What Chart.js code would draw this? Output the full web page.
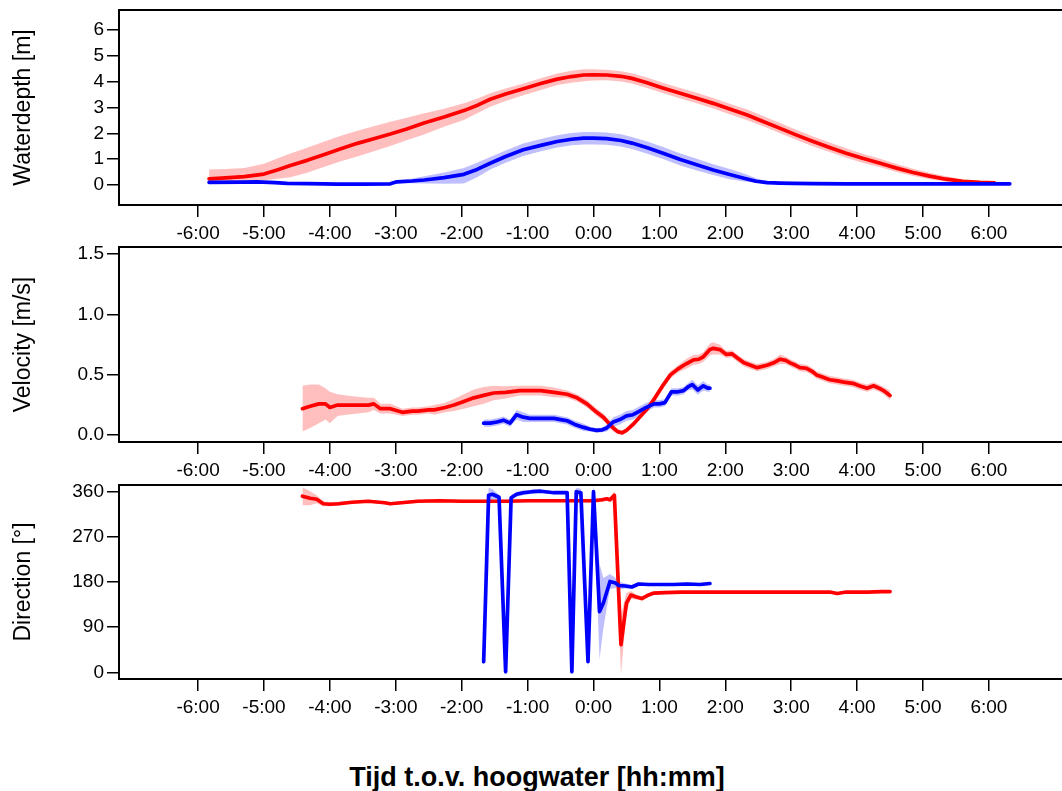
<!DOCTYPE html>
<html lang="nl">
<head>
<meta charset="UTF-8">
<title>Waterdiepte, snelheid en richting rond hoogwater</title>
<script src="https://cdn.jsdelivr.net/npm/chart.js"></script>
<style>
  body { margin: 0; background: #fff; overflow: hidden; font-family: 'Liberation Sans', Arial, sans-serif; }
  .wrap { position: relative; width: 1062px; height: 791px; overflow: hidden; }
  .wrap canvas { position: absolute; left: 0; }
  #xtitle { position: absolute; left: 0; width: 1074px; top: 762px; text-align: center;
            font-weight: bold; font-size: 27px; line-height: 30px; color: #000; }
</style>
</head>
<body>
<div class="wrap">
  <canvas id="depth" width="1080" height="250" style="top:0px"></canvas>
  <canvas id="velocity" width="1080" height="250" style="top:237px"></canvas>
  <canvas id="direction" width="1080" height="249" style="top:475px"></canvas>
  <div id="xtitle">Tijd t.o.v. hoogwater [hh:mm]</div>
</div>

<script>
// time axis: minutes relative to high water
const hourTicks = [-360, -300, -240, -180, -120, -60, 0, 60, 120, 180, 240, 300, 360];

// --- waterdepth [m] ---
const depthTimeRed = [-350, -335, -318, -300, -288, -276, -260, -245, -230, -215,
  -200, -185, -170, -155, -136, -118, -105, -94, -80, -63,
  -48, -33, -20, -9, 0, 12, 25, 35, 48, 63,
  79, 94, 109, 124, 140, 155, 170, 185, 200, 215,
  230, 245, 261, 276, 291, 306, 321, 336, 352, 365];
const depthRed = [0.23, 0.27, 0.32, 0.42, 0.58, 0.75, 0.96, 1.18, 1.40, 1.61,
  1.79, 1.97, 2.17, 2.39, 2.63, 2.88, 3.10, 3.32, 3.52, 3.74,
  3.93, 4.10, 4.20, 4.26, 4.27, 4.26, 4.21, 4.13, 3.97, 3.76,
  3.55, 3.36, 3.16, 2.94, 2.71, 2.45, 2.19, 1.93, 1.68, 1.45,
  1.23, 1.03, 0.84, 0.65, 0.48, 0.34, 0.22, 0.14, 0.10, 0.08];
const depthRedLow = [0.12, 0.14, 0.15, 0.18, 0.24, 0.30, 0.48, 0.70, 0.92, 1.10,
  1.30, 1.51, 1.73, 1.94, 2.25, 2.52, 2.80, 3.03, 3.25, 3.48,
  3.68, 3.87, 3.96, 4.02, 4.05, 4.06, 4.01, 3.93, 3.77, 3.56,
  3.35, 3.16, 2.96, 2.74, 2.51, 2.26, 2.00, 1.74, 1.49, 1.27,
  1.05, 0.86, 0.68, 0.50, 0.34, 0.22, 0.12, 0.07, 0.06, 0.06];
const depthRedHigh = [0.60, 0.62, 0.65, 0.82, 1.02, 1.22, 1.45, 1.68, 1.90, 2.10,
  2.27, 2.45, 2.60, 2.77, 2.95, 3.16, 3.36, 3.55, 3.74, 3.94,
  4.13, 4.32, 4.42, 4.48, 4.48, 4.46, 4.41, 4.33, 4.17, 3.96,
  3.76, 3.57, 3.37, 3.15, 2.92, 2.66, 2.40, 2.13, 1.88, 1.64,
  1.42, 1.21, 1.01, 0.81, 0.63, 0.47, 0.33, 0.22, 0.14, 0.10];

const depthTimeBlue = [-350, -320, -306, -290, -279, -260, -233, -210, -185, -179,
  -165, -154, -136, -118, -106, -94, -80, -64, -48, -33,
  -20, -9, 0, 12, 25, 35, 49, 64, 79, 94,
  109, 124, 137, 148, 158, 170, 182, 200, 230, 260,
  300, 340, 379];
const depthBlue = [0.10, 0.11, 0.12, 0.09, 0.06, 0.05, 0.03, 0.03, 0.04, 0.12,
  0.15, 0.19, 0.28, 0.41, 0.60, 0.84, 1.10, 1.36, 1.53, 1.68,
  1.77, 1.81, 1.81, 1.79, 1.72, 1.62, 1.44, 1.22, 0.98, 0.78,
  0.58, 0.40, 0.26, 0.14, 0.09, 0.07, 0.06, 0.05, 0.04, 0.04,
  0.04, 0.04, 0.04];
const depthBlueLow = [0.08, 0.09, 0.10, 0.07, 0.05, 0.04, 0.02, 0.02, 0.03, 0.06,
  0.06, 0.05, 0.04, 0.05, 0.30, 0.60, 0.86, 1.12, 1.30, 1.45,
  1.54, 1.57, 1.57, 1.56, 1.49, 1.39, 1.21, 0.99, 0.75, 0.56,
  0.38, 0.22, 0.13, 0.08, 0.07, 0.06, 0.05, 0.04, 0.03, 0.03,
  0.03, 0.03, 0.03];
const depthBlueHigh = [0.12, 0.13, 0.14, 0.11, 0.07, 0.06, 0.04, 0.04, 0.05, 0.18,
  0.25, 0.33, 0.48, 0.65, 0.86, 1.08, 1.33, 1.60, 1.78, 1.92,
  2.01, 2.05, 2.05, 2.03, 1.96, 1.86, 1.68, 1.46, 1.22, 1.01,
  0.80, 0.62, 0.44, 0.26, 0.14, 0.09, 0.07, 0.06, 0.05, 0.05,
  0.05, 0.05, 0.05];

// --- velocity [m/s] ---
const velTimeRed = [-265, -258, -250, -244, -240, -233, -225, -215, -205, -200,
  -194, -185, -174, -165, -160, -150, -145, -135, -127, -118,
  -109, -100, -91, -80, -67, -58, -48, -36, -24, -15,
  -6, 3, 9, 14, 18, 22, 26, 30, 36, 42,
  49, 56, 63, 70, 77, 84, 91, 96, 100, 106,
  109, 115, 121, 126, 131, 137, 143, 149, 158, 164,
  170, 175, 179, 184, 188, 194, 199, 203, 209, 215,
  222, 228, 236, 242, 249, 255, 260, 264, 270];
const velRed = [0.22, 0.24, 0.26, 0.26, 0.23, 0.25, 0.25, 0.25, 0.25, 0.26,
  0.22, 0.22, 0.19, 0.20, 0.20, 0.21, 0.21, 0.23, 0.25, 0.28,
  0.31, 0.33, 0.35, 0.355, 0.37, 0.37, 0.37, 0.355, 0.34, 0.31,
  0.26, 0.19, 0.15, 0.10, 0.06, 0.03, 0.02, 0.04, 0.09, 0.15,
  0.22, 0.31, 0.41, 0.50, 0.55, 0.59, 0.625, 0.63, 0.65, 0.71,
  0.72, 0.71, 0.67, 0.675, 0.64, 0.60, 0.58, 0.56, 0.58, 0.60,
  0.63, 0.62, 0.60, 0.58, 0.56, 0.555, 0.53, 0.50, 0.48, 0.46,
  0.45, 0.44, 0.43, 0.41, 0.39, 0.41, 0.39, 0.37, 0.33];
const velRedSpread = [0.19, 0.18, 0.16, 0.13, 0.13, 0.09, 0.08, 0.07, 0.06, 0.05,
  0.04, 0.04, 0.03, 0.03, 0.03, 0.03, 0.04, 0.04, 0.05, 0.06,
  0.07, 0.07, 0.06, 0.05, 0.04, 0.04, 0.04, 0.04, 0.03, 0.03,
  0.03, 0.03, 0.03, 0.03, 0.03, 0.02, 0.02, 0.02, 0.02, 0.02,
  0.02, 0.03, 0.03, 0.03, 0.03, 0.04, 0.04, 0.04, 0.04, 0.05,
  0.05, 0.04, 0.03, 0.03, 0.03, 0.03, 0.03, 0.03, 0.03, 0.03,
  0.04, 0.03, 0.03, 0.03, 0.03, 0.03, 0.03, 0.03, 0.03, 0.03,
  0.03, 0.03, 0.03, 0.03, 0.03, 0.03, 0.03, 0.03, 0.04];

const velTimeBlue = [-100, -94, -88, -82, -76, -70, -64, -58, -50, -42,
  -36, -30, -24, -17, -9, -3, 3, 8, 12, 18,
  24, 30, 36, 42, 48, 55, 60, 65, 71, 77,
  82, 86, 90, 95, 100, 104, 106];
const velBlue = [0.10, 0.10, 0.11, 0.125, 0.10, 0.17, 0.15, 0.14, 0.14, 0.14,
  0.14, 0.13, 0.12, 0.09, 0.065, 0.05, 0.04, 0.045, 0.06, 0.11,
  0.13, 0.16, 0.17, 0.20, 0.23, 0.26, 0.26, 0.27, 0.36, 0.36,
  0.37, 0.40, 0.42, 0.375, 0.41, 0.39, 0.39];
const velBlueSpread = [0.03, 0.03, 0.03, 0.03, 0.03, 0.04, 0.04, 0.03, 0.03, 0.03,
  0.03, 0.03, 0.03, 0.03, 0.03, 0.02, 0.02, 0.02, 0.03, 0.04,
  0.04, 0.04, 0.04, 0.04, 0.04, 0.03, 0.03, 0.03, 0.03, 0.03,
  0.03, 0.03, 0.04, 0.04, 0.04, 0.03, 0.03];

// --- direction [deg] ---
const dirTimeRed = [-265, -258, -252, -246, -240, -232, -220, -205, -190, -185,
  -175, -160, -140, -120, -100, -80, -60, -40, -20, 0,
  8, 12, 15, 19, 25, 30, 34, 39, 44, 49,
  55, 65, 80, 100, 130, 160, 190, 215, 222, 230,
  250, 262, 270];
const dirRed = [351, 347, 345, 336, 335, 336, 339, 341, 338, 336,
  338, 341, 342, 341, 341, 341, 342, 342, 342, 342,
  344, 346, 344, 353, 55, 138, 154, 150, 147, 153,
  158, 159, 160, 160, 160, 160, 160, 160, 157, 160,
  160, 161, 161];
const dirRedSpread = [18, 14, 8, 5, 4, 4, 3, 3, 3, 3,
  3, 3, 3, 3, 3, 3, 3, 3, 3, 4,
  4, 4, 5, 8, 60, 20, 8, 5, 4, 3,
  3, 2, 2, 2, 2, 2, 2, 2, 2, 2,
  2, 2, 2];

const dirTimeBlue = [-100, -95.5, -92, -86, -80, -75, -70, -64, -56, -48,
  -40, -36, -30, -24, -19.7, -15.7, -11.5, -5, 0, 5.5,
  9, 15, 20, 23, 29, 35, 41, 50, 60, 73,
  85, 97, 106];
const dirBlue = [21, 353, 355, 349, 1, 348, 355, 358, 360, 361,
  359, 358, 358, 358, 1, 360, 358, 21, 360, 121,
  138, 181, 178, 173, 172, 170, 176, 175, 175, 175,
  176, 175, 177];
const dirBlueSpread = [20, 15, 10, 5, 5, 5, 5, 5, 4, 3,
  3, 3, 3, 3, 5, 8, 8, 15, 15, 95,
  50, 15, 10, 8, 5, 4, 3, 3, 3, 3,
  3, 3, 3];

const RED = '#ff0000';
const BLUE = '#0000ff';
const RED_BAND = 'rgba(255, 0, 0, 0.25)';
const BLUE_BAND = 'rgba(0, 0, 255, 0.25)';
const FONT = "'Liberation Sans', Arial, sans-serif";

function pts(t, v) {
  return t.map((x, i) => ({ x: x, y: v[i] }));
}

function plusMinus(v, s, sign) {
  return v.map((y, i) => y + sign * s[i]);
}

function fmtTime(m) {
  const a = Math.abs(m);
  return (m < 0 ? '-' : '') + Math.floor(a / 60) + ':' + String(a % 60).padStart(2, '0');
}

function meanLine(s, color) {
  return {
    data: pts(s.t, s.mean), borderColor: color, borderWidth: 3.7,
    borderCapStyle: 'round', borderJoinStyle: 'round',
    fill: false, pointRadius: 0, tension: 0
  };
}

function bandTop(s, color) {
  return {
    data: pts(s.t, s.hi), borderColor: 'rgba(0,0,0,0)', borderWidth: 0,
    backgroundColor: color, fill: '+1', pointRadius: 0, tension: 0
  };
}

function bandBottom(s) {
  return {
    data: pts(s.t, s.lo), borderColor: 'rgba(0,0,0,0)', borderWidth: 0,
    fill: false, pointRadius: 0, tension: 0
  };
}

// frame around the plot area, right side runs off the page
const boxPlugin = {
  id: 'box',
  afterDatasetsDraw(chart) {
    const a = chart.chartArea;
    const c = chart.ctx;
    c.save();
    c.strokeStyle = '#000';
    c.lineWidth = 2;
    c.strokeRect(a.left, a.top, a.right - a.left, a.bottom - a.top);
    c.restore();
  }
};

const tickGrid = { drawOnChartArea: false, drawTicks: true, tickLength: 12, color: '#000', lineWidth: 1.5 };

function makePanel(id, p) {
  return new Chart(document.getElementById(id), {
    type: 'line',
    data: {
      // first dataset is drawn on top
      datasets: [
        meanLine(p.blue, BLUE),
        meanLine(p.red, RED),
        bandTop(p.blue, BLUE_BAND),
        bandBottom(p.blue),
        bandTop(p.red, RED_BAND),
        bandBottom(p.red)
      ]
    },
    plugins: [boxPlugin],
    options: {
      responsive: false,
      animation: false,
      events: [],
      layout: { padding: { top: 10, right: 12, left: 0, bottom: 0 } },
      plugins: { legend: { display: false }, tooltip: { enabled: false } },
      scales: {
        x: {
          type: 'linear', min: -432, max: 432,
          afterBuildTicks: s => { s.ticks = hourTicks.map(v => ({ value: v })); },
          afterFit: s => { s.height = 45; s.paddingLeft = 0; s.paddingRight = 0; },
          border: { display: false },
          grid: tickGrid,
          ticks: {
            color: '#000', font: { family: FONT, size: 19 }, padding: 5,
            maxRotation: 0, autoSkip: false, callback: v => fmtTime(v)
          }
        },
        y: {
          type: 'linear', min: p.yMin, max: p.yMax,
          afterBuildTicks: s => { s.ticks = p.yTicks.map(v => ({ value: v })); },
          afterFit: s => { s.width = 119; s.paddingTop = 0; s.paddingBottom = 0; },
          border: { display: false },
          grid: tickGrid,
          ticks: {
            color: '#000', font: { family: FONT, size: 19 }, padding: 3,
            callback: v => p.fmt(v)
          },
          title: {
            display: true, text: p.title, color: '#000',
            font: { family: FONT, size: 23 }, padding: { top: 10, bottom: 0 }
          }
        }
      }
    }
  });
}

makePanel('depth', {
  title: 'Waterdepth [m]',
  yMin: -0.78, yMax: 6.78, yTicks: [0, 1, 2, 3, 4, 5, 6], fmt: v => String(v),
  red: { t: depthTimeRed, mean: depthRed, lo: depthRedLow, hi: depthRedHigh },
  blue: { t: depthTimeBlue, mean: depthBlue, lo: depthBlueLow, hi: depthBlueHigh }
});

makePanel('velocity', {
  title: 'Velocity [m/s]',
  yMin: -0.056, yMax: 1.56, yTicks: [0, 0.5, 1, 1.5], fmt: v => v.toFixed(1),
  red: { t: velTimeRed, mean: velRed,
         lo: plusMinus(velRed, velRedSpread, -1), hi: plusMinus(velRed, velRedSpread, 1) },
  blue: { t: velTimeBlue, mean: velBlue,
          lo: plusMinus(velBlue, velBlueSpread, -1), hi: plusMinus(velBlue, velBlueSpread, 1) }
});

makePanel('direction', {
  title: 'Direction [°]',
  yMin: -13.4, yMax: 373.4, yTicks: [0, 90, 180, 270, 360], fmt: v => String(v),
  red: { t: dirTimeRed, mean: dirRed,
         lo: plusMinus(dirRed, dirRedSpread, -1), hi: plusMinus(dirRed, dirRedSpread, 1) },
  blue: { t: dirTimeBlue, mean: dirBlue,
          lo: plusMinus(dirBlue, dirBlueSpread, -1), hi: plusMinus(dirBlue, dirBlueSpread, 1) }
});
</script>
</body>
</html>
